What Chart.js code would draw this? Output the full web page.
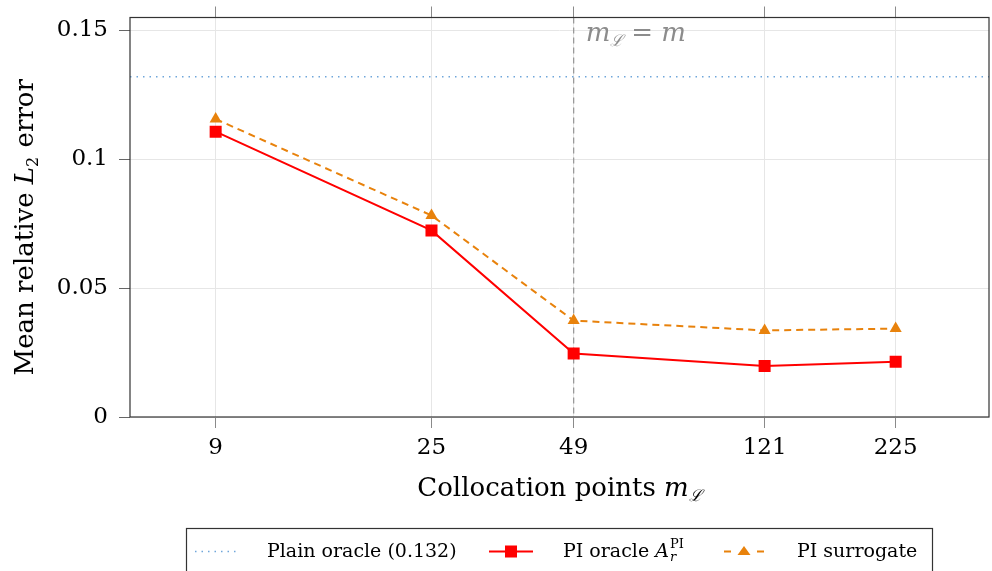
<!DOCTYPE html>
<html>
<head>
<meta charset="utf-8">
<script src="https://cdn.jsdelivr.net/npm/chart.js@4/dist/chart.umd.min.js"></script>
<style>
  html, body { margin: 0; padding: 0; background: #fff; }
  #wrap { position: relative; width: 992px; height: 571px; }
</style>
</head>
<body>
<div id="wrap"><canvas id="c" width="992" height="571"></canvas></div>
<script>
// data
const xValues = [9, 25, 49, 121, 225];
const xTickLabels = ['9', '25', '49', '121', '225'];
const piOracle = [0.1107, 0.0724, 0.0246, 0.0198, 0.0214];
const piSurrogate = [0.1156, 0.0782, 0.0374, 0.0336, 0.0343];
const plainOracle = 0.132;
const yTicks = [0, 0.05, 0.1, 0.15];
const yTickLabels = ['0', '0.05', '0.1', '0.15'];
const xLimits = [6, 350];
const yLimits = [0, 0.155];
const markerX = 49;

const SERIF = "'DejaVu Serif', serif";
const BLUE = '#6fa6da';
const RED = '#ff0000';
const ORANGE = '#e8820c';

// draw a run of text pieces: [text, font, baselineShift, dx]
const drawRich = (ctx, parts, x, y, align) => {
  let w = 0;
  parts.forEach(p => { ctx.font = p[1]; w += ctx.measureText(p[0]).width + (p[3] || 0); });
  let cx = align === 'center' ? x - w / 2 : x;
  ctx.textAlign = 'left';
  ctx.textBaseline = 'alphabetic';
  parts.forEach(p => {
    ctx.font = p[1];
    ctx.fillText(p[0], cx, y + (p[2] || 0));
    cx += ctx.measureText(p[0]).width + (p[3] || 0);
  });
  return w;
};

const f = (size, style) => (style ? style + ' ' : '') + size + 'px ' + SERIF;

const decorations = {
  id: 'decorations',
  beforeDatasetsDraw(chart) {
    const { ctx, chartArea, scales } = chart;
    const px = scales.x.getPixelForValue(markerX);
    ctx.save();
    ctx.strokeStyle = '#9a9a9a';
    ctx.lineWidth = 1.3;
    ctx.setLineDash([6, 4]);
    ctx.beginPath();
    ctx.moveTo(px, chartArea.top);
    ctx.lineTo(px, chartArea.bottom);
    ctx.stroke();
    ctx.restore();
  },
  afterDraw(chart) {
    const { ctx, chartArea, scales } = chart;
    ctx.save();
    // frame
    ctx.strokeStyle = '#333';
    ctx.lineWidth = 1.2;
    ctx.strokeRect(chartArea.left, chartArea.top, chartArea.right - chartArea.left, chartArea.bottom - chartArea.top);

    // annotation m_L = m
    ctx.fillStyle = '#8c8c8c';
    const ax = scales.x.getPixelForValue(markerX) + 12;
    drawRich(ctx, [['m', f(26, 'italic')], ['\u2112', f(16, 'italic'), 5, 8], ['= ', f(26)], ['m', f(26, 'italic')]], ax, 41, 'left');

    // axis titles
    ctx.fillStyle = '#000';
    const midX = (chartArea.left + chartArea.right) / 2;
    drawRich(ctx, [['Collocation points ', f(26)], ['m', f(26, 'italic')], ['\u2112', f(16, 'italic'), 5]], midX, 496, 'center');

    ctx.save();
    ctx.translate(33, (chartArea.top + chartArea.bottom) / 2 + 10);
    ctx.rotate(-Math.PI / 2);
    drawRich(ctx, [['Mean relative ', f(26)], ['L', f(26, 'italic')], ['2', f(16), 5, 1], [' error', f(26)]], 0, 0, 'center');
    ctx.restore();

    // legend
    const ly = 551.5, tb = 557;
    ctx.strokeStyle = '#333';
    ctx.lineWidth = 1.2;
    ctx.setLineDash([]);
    ctx.fillStyle = '#fff';
    ctx.fillRect(186.5, 528.5, 746, 50);
    ctx.strokeRect(186.5, 528.5, 746, 50);

    ctx.strokeStyle = BLUE;
    ctx.lineWidth = 1.4;
    ctx.setLineDash([1.5, 5]);
    ctx.beginPath(); ctx.moveTo(195, ly); ctx.lineTo(240, ly); ctx.stroke();

    ctx.strokeStyle = RED;
    ctx.lineWidth = 2;
    ctx.setLineDash([]);
    ctx.beginPath(); ctx.moveTo(489, ly); ctx.lineTo(533, ly); ctx.stroke();
    ctx.fillStyle = RED;
    ctx.fillRect(505, ly - 6, 12, 12);

    ctx.strokeStyle = ORANGE;
    ctx.beginPath(); ctx.moveTo(724, ly); ctx.lineTo(731, ly); ctx.moveTo(757, ly); ctx.lineTo(764, ly); ctx.stroke();
    ctx.fillStyle = ORANGE;
    ctx.beginPath(); ctx.moveTo(744, ly - 5.5); ctx.lineTo(750.5, ly + 3.5); ctx.lineTo(737.5, ly + 3.5); ctx.closePath(); ctx.fill();

    ctx.fillStyle = '#000';
    drawRich(ctx, [['Plain oracle (0.132)', f(19)]], 267, tb, 'left');
    ctx.font = f(19);
    const w1 = ctx.measureText('PI oracle ').width;
    drawRich(ctx, [['PI oracle ', f(19)], ['A', f(19, 'italic')]], 563, tb, 'left');
    ctx.font = f(19, 'italic');
    const sx = 563 + w1 + ctx.measureText('A').width + 1;
    drawRich(ctx, [['PI', f(13)]], sx, tb - 9, 'left');
    drawRich(ctx, [['r', f(13, 'italic')]], sx, tb + 4, 'left');
    drawRich(ctx, [['PI surrogate', f(19)]], 797, tb, 'left');
    ctx.restore();
  }
};

const tickFont = { family: SERIF, size: 23 };
const xTickSetter = scale => { scale.ticks = xValues.map(v => ({ value: v })); };
const noPad = s => { s.paddingLeft = 0; s.paddingRight = 0; s.paddingTop = 0; s.paddingBottom = 0; };

new Chart(document.getElementById('c'), {
  type: 'line',
  data: {
    datasets: [
      {
        label: 'Plain oracle (0.132)',
        data: xLimits.map(x => ({ x, y: plainOracle })),
        borderColor: BLUE,
        borderWidth: 1.4,
        borderDash: [1.5, 5],
        pointRadius: 0
      },
      {
        label: 'PI oracle',
        data: xValues.map((x, i) => ({ x, y: piOracle[i] })),
        borderColor: RED,
        backgroundColor: RED,
        borderWidth: 2,
        pointStyle: 'rect',
        pointRadius: 8.5,
        pointBorderWidth: 0
      },
      {
        label: 'PI surrogate',
        data: xValues.map((x, i) => ({ x, y: piSurrogate[i] })),
        borderColor: ORANGE,
        backgroundColor: ORANGE,
        borderWidth: 2,
        borderDash: [7, 5],
        pointStyle: 'triangle',
        pointRadius: 7,
        pointBorderWidth: 0
      }
    ]
  },
  options: {
    responsive: false,
    animation: false,
    devicePixelRatio: 1,
    layout: { autoPadding: false, padding: { left: 0, right: 3, top: 0, bottom: 0 } },
    plugins: { legend: { display: false }, tooltip: { enabled: false } },
    scales: {
      x: {
        type: 'logarithmic',
        position: 'bottom',
        min: xLimits[0],
        max: xLimits[1],
        afterBuildTicks: xTickSetter,
        afterFit: s => { s.height = 154; noPad(s); },
        ticks: {
          autoSkip: false,
          maxRotation: 0,
          font: tickFont,
          color: '#000',
          padding: 6,
          callback: (v) => xTickLabels[xValues.indexOf(v)]
        },
        grid: { color: '#e6e6e6', tickColor: '#8a8a8a', tickLength: 11, lineWidth: 1 },
        border: { display: false }
      },
      x2: {
        type: 'logarithmic',
        position: 'top',
        min: xLimits[0],
        max: xLimits[1],
        afterBuildTicks: xTickSetter,
        afterFit: s => { s.height = 17.5; noPad(s); },
        ticks: { display: false },
        grid: { drawOnChartArea: false, tickColor: '#8a8a8a', tickLength: 11 },
        border: { display: false }
      },
      y: {
        min: yLimits[0],
        max: yLimits[1],
        afterBuildTicks: s => { s.ticks = yTicks.map(v => ({ value: v })); },
        afterFit: s => { s.width = 130; noPad(s); },
        ticks: {
          font: tickFont,
          color: '#000',
          padding: 11,
          callback: (v) => yTickLabels[yTicks.indexOf(v)]
        },
        grid: { color: '#e6e6e6', tickColor: '#666', tickLength: 11, lineWidth: 1 },
        border: { display: false }
      }
    }
  },
  plugins: [decorations]
});
</script>
</body>
</html>
